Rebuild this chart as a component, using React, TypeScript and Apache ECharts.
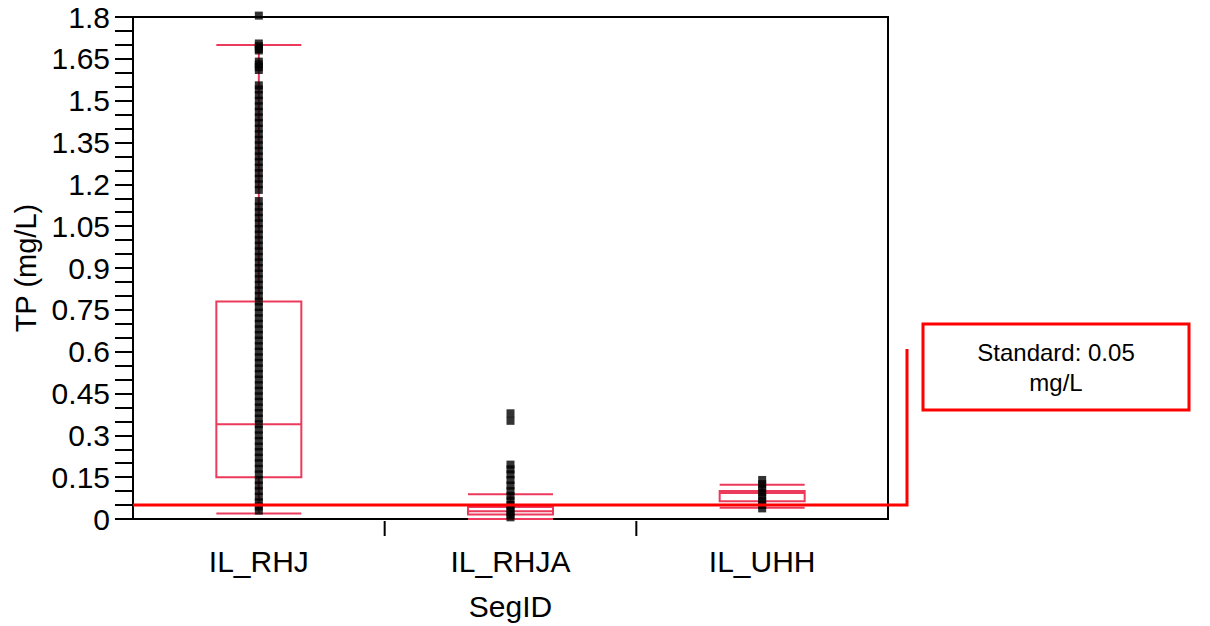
import React, { useEffect, useRef } from "react";
import * as echarts from "echarts";

const categories = ["IL_RHJ", "IL_RHJA", "IL_UHH"];

// [lower whisker, Q1, median, Q3, upper whisker]
const boxStats = [
  [0.02, 0.15, 0.34, 0.78, 1.70],
  [0.0, 0.016, 0.028, 0.043, 0.089],
  [0.04, 0.064, 0.093, 0.1, 0.123],
];

const pointsRHJ = [
  1.805, 1.705, 1.695, 1.685, 1.68, 1.64, 1.63, 1.62, 1.61,
  1.555, 1.54, 1.52, 1.5, 1.48, 1.46, 1.44, 1.42, 1.4, 1.38, 1.36, 1.34, 1.32,
  1.3, 1.28, 1.26, 1.24, 1.22, 1.2, 1.18,
  1.14, 1.12, 1.1, 1.08, 1.06, 1.04, 1.02, 1.0, 0.98, 0.96, 0.94, 0.92, 0.9,
  0.88, 0.86, 0.84, 0.82, 0.8, 0.78, 0.76, 0.74, 0.72, 0.7, 0.68, 0.66, 0.64,
  0.62, 0.6, 0.58, 0.56, 0.54, 0.52, 0.5, 0.48, 0.46, 0.44, 0.42, 0.4, 0.38,
  0.36, 0.34, 0.32, 0.3, 0.28, 0.26, 0.24, 0.22, 0.2, 0.18, 0.16, 0.14, 0.12,
  0.1, 0.08, 0.06, 0.045, 0.03,
];
const pointsRHJA = [
  0.379, 0.352, 0.195, 0.178, 0.16, 0.14, 0.12, 0.1, 0.083, 0.066, 0.05, 0.038,
  0.026, 0.015, 0.006,
];
const pointsUHH = [0.14, 0.125, 0.11, 0.095, 0.08, 0.065, 0.05, 0.038];

const standardValue = 0.05;
const standardLabel = "Standard: 0.05\nmg/L";

const FONT = "'Liberation Sans', Arial, sans-serif";
const BOX_COLOR = "#ec3a5c";

export default function App() {
  const ref = useRef<HTMLDivElement>(null);
  useEffect(() => {
    document.body.style.margin = "0";
    if (!ref.current) return;
    const chart = echarts.init(ref.current, undefined, { renderer: "svg" });
    const scatterData: [string, number][] = [];
    pointsRHJ.forEach((v) => scatterData.push([categories[0], v]));
    pointsRHJA.forEach((v) => scatterData.push([categories[1], v]));
    pointsUHH.forEach((v) => scatterData.push([categories[2], v]));

    const gridLeft = 133;
    const gridTop = 17;
    const gridRight = 322;
    const gridBottom = 105;
    const axisY = 626 - gridBottom;

    chart.setOption({
      animation: false,
      backgroundColor: "#fff",
      textStyle: { fontFamily: FONT },
      grid: {
        left: gridLeft,
        top: gridTop,
        right: gridRight,
        bottom: gridBottom,
        show: true,
        borderColor: "#000",
        borderWidth: 2,
        backgroundColor: "transparent",
      },
      xAxis: {
        type: "category",
        data: categories,
        boundaryGap: true,
        name: "SegID",
        nameLocation: "middle",
        nameGap: 72,
        nameTextStyle: { fontSize: 30, color: "#000", fontFamily: FONT },
        axisLine: { lineStyle: { color: "#000", width: 2 } },
        axisTick: { show: false },
        axisLabel: { fontSize: 30, color: "#000", margin: 27, fontFamily: FONT },
        splitLine: { show: false },
      },
      yAxis: {
        type: "value",
        min: 0,
        max: 1.8,
        interval: 0.15,
        name: "TP (mg/L)",
        nameLocation: "middle",
        nameGap: 92,
        nameTextStyle: { fontSize: 29, color: "#000", fontFamily: FONT },
        axisLine: { show: true, lineStyle: { color: "#000", width: 2 } },
        axisTick: { show: true, length: 18, lineStyle: { color: "#000", width: 2 } },
        minorTick: { show: true, splitNumber: 3, length: 18, lineStyle: { color: "#000", width: 2 } },
        axisLabel: {
          fontSize: 30,
          color: "#000",
          margin: 23,
          fontFamily: FONT,
          formatter: (v: number) => String(+v.toFixed(2)),
        },
        splitLine: { show: false },
      },
      series: [
        {
          type: "boxplot",
          data: boxStats,
          boxWidth: [85, 85],
          itemStyle: { color: "transparent", borderColor: BOX_COLOR, borderWidth: 2 },
          z: 2,
        },
        {
          type: "scatter",
          data: scatterData,
          symbol: "rect",
          symbolSize: [8, 8],
          itemStyle: { color: "#000" },
          clip: false,
          z: 3,
        },
      ],
    });

    const y = chart.convertToPixel({ yAxisIndex: 0 }, standardValue) as number;
    const centers = categories.map(
      (c) => chart.convertToPixel({ xAxisIndex: 0 }, c) as number
    );
    const sepTicks = [];
    for (let i = 0; i < centers.length - 1; i++) {
      const xs = (centers[i] + centers[i + 1]) / 2;
      sepTicks.push({
        type: "line",
        z: 5,
        shape: { x1: xs, y1: axisY, x2: xs, y2: axisY + 15 },
        style: { stroke: "#000", lineWidth: 2 },
      });
    }
    const xEnd = 907;
    chart.setOption({
      graphic: [
        ...sepTicks,
        {
          type: "polyline",
          z: 10,
          shape: { points: [[gridLeft, y], [xEnd, y], [xEnd, 349]] },
          style: { stroke: "#ff0000", lineWidth: 3, fill: "none" },
        },
        {
          type: "rect",
          z: 10,
          shape: { x: 923, y: 324, width: 266, height: 86 },
          style: { stroke: "#ff0000", lineWidth: 3, fill: "#fff" },
        },
        {
          type: "text",
          z: 11,
          x: 1056,
          y: 367,
          style: {
            text: standardLabel,
            fontSize: 24,
            fontFamily: FONT,
            fill: "#000",
            align: "center",
            verticalAlign: "middle",
            lineHeight: 30,
          },
        },
      ],
    });

    return () => chart.dispose();
  }, []);
  return <div ref={ref} style={{ width: 1210, height: 626 }} />;
}
